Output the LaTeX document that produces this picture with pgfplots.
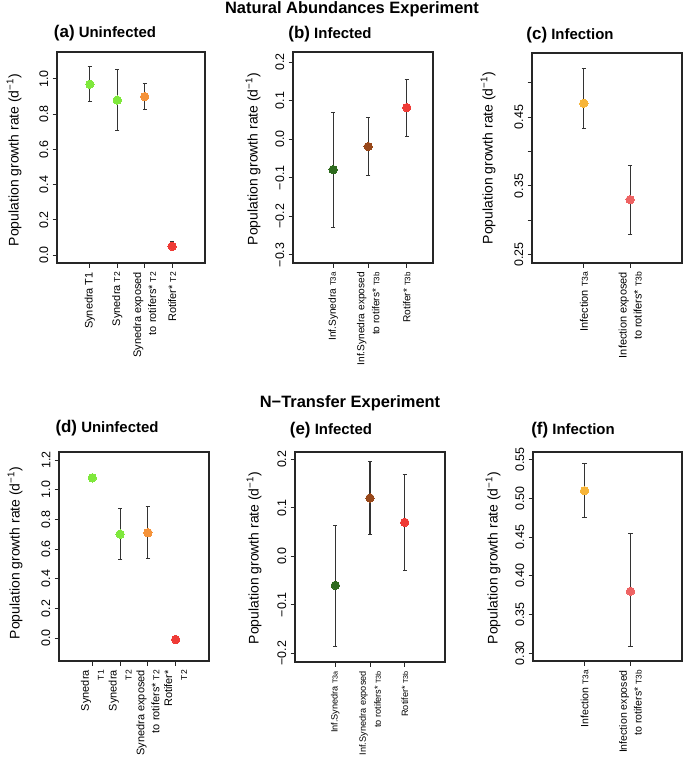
\documentclass[border=0pt]{standalone}
\usepackage{fontspec}
\setmainfont{Liberation Sans}
\usepackage{pgfplots}
\pgfplotsset{compat=1.18}

\definecolor{lgreen}{HTML}{7FE83C}
\definecolor{morange}{HTML}{F5933A}
\definecolor{mred}{HTML}{EF3B36}
\definecolor{dgreen}{HTML}{2E6B1E}
\definecolor{mbrown}{HTML}{98481A}
\definecolor{myellow}{HTML}{F7B539}
\definecolor{msalmon}{HTML}{EE6363}

\makeatletter
\newcommand{\Ts}[1]{{\fontsize{\strip@pt\dimexpr0.78\dimexpr\f@size pt\relax\relax}{15}\selectfont #1}}
\makeatother

\pgfplotsset{
 panel/.style={
  set layers,
  scale only axis,
  axis line style={line width=1.1bp, black!85},
  every tick/.style={line width=1bp, black!85},
  tick align=outside,
  major tick length=4.5bp,
  xtick pos=bottom, ytick pos=left,
  yticklabel style={rotate=90, anchor=south, font=\fontsize{12.5}{13}\selectfont, inner sep=1bp},
  yticklabel shift=3bp,
  xticklabel style={rotate=90, anchor=east, align=right, inner sep=1bp},
  xticklabel shift=3.5bp,
  clip=false,
 },
 xf/.style={xticklabel style={font=\fontsize{#1}{15}\selectfont}},
 ebar/.style={forget plot, draw=none, mark=none, on layer=axis background,
   error bars/.cd, y dir=both, y explicit,
   error bar style={draw=black!80, line width=1.2bp},
   error mark=-,
   error mark options={draw=black!80, rotate=90, line width=1bp, mark size=2.2bp}},
 pt/.style={only marks, mark=*, mark size=4.2bp, on layer=axis foreground, mark options={draw=#1, fill=#1, line width=0pt}},
}

\begin{document}
\begin{tikzpicture}

% ---------------- main titles
\node[font=\bfseries\fontsize{16.5}{18}\selectfont] at (352bp,-9bp) {Natural Abundances Experiment};
\node[font=\bfseries\fontsize{16.5}{18}\selectfont] at (350bp,-403bp) {N−Transfer Experiment};

% ---------------- panel titles
\node[font=\bfseries\fontsize{15}{18}\selectfont] at (105bp,-33bp) {{\fontsize{17}{18}\selectfont(a)} Uninfected};
\node[font=\bfseries\fontsize{15}{18}\selectfont] at (330bp,-34bp) {{\fontsize{17}{18}\selectfont(b)} Infected};
\node[font=\bfseries\fontsize{15}{18}\selectfont] at (570bp,-35bp) {{\fontsize{17}{18}\selectfont(c)} Infection};
\node[font=\bfseries\fontsize{15}{18}\selectfont] at (107bp,-428bp) {{\fontsize{17}{18}\selectfont(d)} Uninfected};
\node[font=\bfseries\fontsize{15}{18}\selectfont] at (331bp,-430bp) {{\fontsize{17}{18}\selectfont(e)} Infected};
\node[font=\bfseries\fontsize{15}{18}\selectfont] at (573bp,-430bp) {{\fontsize{17}{18}\selectfont(f)} Infection};

% ---------------- y labels
\foreach \xx/\yy in {14/160, 253/159, 488/158, 15/553, 254/558, 493/558}{
  \node[rotate=90, font=\fontsize{14}{16}\selectfont] at (\xx bp,-\yy bp) {Population growth rate (d\textsuperscript{−1})};
}

% ---------------- (a)
\begin{axis}[panel, xf=11, at={(57bp,-52bp)}, anchor=north west, width=148bp, height=211bp,
  xmin=-0.2, xmax=5.2, ymin=-0.045, ymax=1.153,
  xtick={1,2,3,4},
  xticklabels={{Synedra T1},{Synedra \Ts{T2}},{Synedra exposed\\to rotifers* \Ts{T2}},{Rotifer* \Ts{T2}}},
  ytick={0,0.2,0.4,0.6,0.8,1.0},
  yticklabels={0.0,0.2,0.4,0.6,0.8,1.0}]
\addplot[ebar] coordinates {(1,0.97) += (0,0.10) -= (0,0.10) (2,0.88) += (0,0.175) -= (0,0.175)
  (3,0.90) += (0,0.076) -= (0,0.074) (4,0.05) += (0,0.025) -= (0,0.025)};
\addplot[pt=lgreen] coordinates {(1,0.97) (2,0.88)};
\addplot[pt=morange] coordinates {(3,0.90)};
\addplot[pt=mred] coordinates {(4,0.05)};
\end{axis}

% ---------------- (b)
\begin{axis}[panel, xf=10.2, at={(293bp,-52bp)}, anchor=north west, width=140bp, height=211bp,
  xmin=-0.16, xmax=4.16, ymin=-0.321, ymax=0.226,
  xtick={1.08,2.16,3.35},
  xticklabels={{Inf.Synedra \Ts{T3a}},{Inf.Synedra exposed\\to rotifers* \Ts{T3b}},{Rotifer* \Ts{T3b}}},
  ytick={-0.3,-0.2,-0.1,0,0.1,0.2},
  yticklabels={−0.3,−0.2,−0.1,0.0,0.1,0.2}]
\addplot[ebar] coordinates {(1.08,-0.079) += (0,0.148) -= (0,0.150) (2.16,-0.019) += (0,0.075) -= (0,0.075)
  (3.35,0.082) += (0,0.074) -= (0,0.075)};
\addplot[pt=dgreen] coordinates {(1.08,-0.079)};
\addplot[pt=mbrown] coordinates {(2.16,-0.019)};
\addplot[pt=mred] coordinates {(3.35,0.082)};
\end{axis}

% ---------------- (c)
\begin{axis}[panel, xf=11, at={(532bp,-53bp)}, anchor=north west, width=150bp, height=210bp,
  xmin=-0.12, xmax=3.12, ymin=0.238, ymax=0.543,
  xtick={1,2},
  xticklabels={{Infection \Ts{T3a}},{Infection exposed\\to rotifers* \Ts{T3b}}},
  ytick={0.25,0.30,0.35,0.40,0.45,0.50},
  yticklabels={0.25,,0.35,,0.45,}]
\addplot[ebar] coordinates {(1,0.470) += (0,0.051) -= (0,0.036) (2,0.330) += (0,0.050) -= (0,0.050)};
\addplot[pt=myellow] coordinates {(1,0.470)};
\addplot[pt=msalmon] coordinates {(2,0.330)};
\end{axis}

% ---------------- (d)
\begin{axis}[panel, xf=11, at={(59bp,-452bp)}, anchor=north west, width=150bp, height=209bp,
  xmin=-0.2, xmax=5.2, ymin=-0.155, ymax=1.254,
  xtick={1,2,3,4},
  xticklabels={{Synedra\\\Ts{T1}},{Synedra\\\Ts{T2}},{Synedra exposed\\to rotifers* \Ts{T2}},{Rotifer*\\\Ts{T2}}},
  ytick={0,0.2,0.4,0.6,0.8,1.0,1.2},
  yticklabels={0.0,0.2,0.4,0.6,0.8,1.0,1.2}]
\addplot[ebar] coordinates {(1,1.08) += (0,0.02) -= (0,0.02) (2,0.70) += (0,0.176) -= (0,0.174)
  (3,0.71) += (0,0.175) -= (0,0.175) (4,-0.01) += (0,0.01) -= (0,0.01)};
\addplot[pt=lgreen] coordinates {(1,1.08) (2,0.70)};
\addplot[pt=morange] coordinates {(3,0.71)};
\addplot[pt=mred] coordinates {(4,-0.01)};
\end{axis}

% ---------------- (e)
\begin{axis}[panel, xf=9.2, at={(295bp,-452bp)}, anchor=north west, width=150bp, height=210bp,
  xmin=-0.16, xmax=4.16, ymin=-0.218, ymax=0.215,
  xtick={1,2,3},
  xticklabels={{Inf.Synedra \Ts{T3a}},{Inf.Synedra exposed\\to rotifers* \Ts{T3b}},{Rotifer* \Ts{T3b}}},
  ytick={-0.2,-0.1,0,0.1,0.2},
  yticklabels={−0.2,−0.1,0.0,0.1,0.2}]
\addplot[ebar] coordinates {(1,-0.06) += (0,0.123) -= (0,0.125) (2,0.12) += (0,0.075) -= (0,0.076)
  (3,0.07) += (0,0.098) -= (0,0.100)};
\addplot[pt=dgreen] coordinates {(1,-0.06)};
\addplot[pt=mbrown] coordinates {(2,0.12)};
\addplot[pt=mred] coordinates {(3,0.07)};
\end{axis}

% ---------------- (f)
\begin{axis}[panel, xf=10.6, at={(533bp,-452bp)}, anchor=north west, width=149bp, height=209bp,
  xmin=-0.12, xmax=3.12, ymin=0.290, ymax=0.560,
  xtick={1,2},
  xticklabels={{Infection \Ts{T3a}},{Infection exposed\\to rotifers* \Ts{T3b}}},
  ytick={0.30,0.35,0.40,0.45,0.50,0.55},
  yticklabels={0.30,0.35,0.40,0.45,0.50,0.55}]
\addplot[ebar] coordinates {(1,0.510) += (0,0.035) -= (0,0.034) (2,0.380) += (0,0.075) -= (0,0.071)};
\addplot[pt=myellow] coordinates {(1,0.510)};
\addplot[pt=msalmon] coordinates {(2,0.380)};
\end{axis}

\pgfresetboundingbox
\path (0,0) rectangle (685bp,-773bp);
\end{tikzpicture}
\end{document}
